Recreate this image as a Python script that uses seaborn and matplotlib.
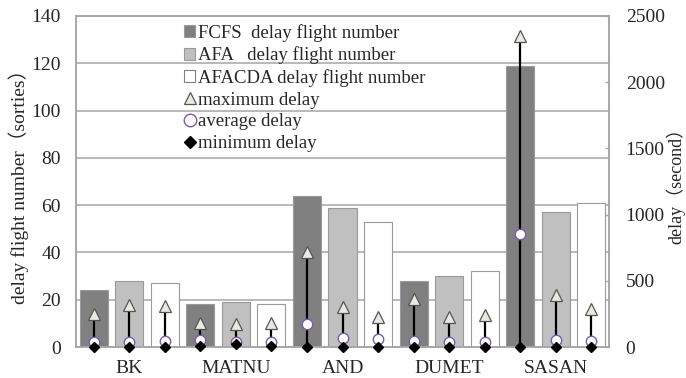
import matplotlib
matplotlib.use("Agg")
import matplotlib.pyplot as plt
from matplotlib.lines import Line2D
from matplotlib.patches import Patch
import pandas as pd
import seaborn as sns

# ---- data -------------------------------------------------------------
categories = ["BK", "MATNU", "AND", "DUMET", "SASAN"]
methods = ["FCFS", "AFA", "AFACDA"]

fcfs_count = [24, 18, 64, 28, 119]
afa_count = [28, 19, 59, 30, 57]
afacda_count = [27, 18, 53, 32, 61]

fcfs_max = [250, 185, 720, 360, 2350]
afa_max = [315, 175, 300, 230, 395]
afacda_max = [310, 185, 230, 240, 290]

fcfs_avg = [40, 50, 170, 45, 850]
afa_avg = [35, 40, 65, 38, 55]
afacda_avg = [45, 40, 58, 38, 45]

fcfs_min = [0, 5, 0, 0, 0]
afa_min = [0, 20, 0, 0, 0]
afacda_min = [0, 5, 0, 0, 0]

left_ticks = [0, 20, 40, 60, 80, 100, 120, 140]
right_ticks = [0, 500, 1000, 1500, 2000, 2500]

counts = {"FCFS": fcfs_count, "AFA": afa_count, "AFACDA": afacda_count}
max_d = {"FCFS": fcfs_max, "AFA": afa_max, "AFACDA": afacda_max}
avg_d = {"FCFS": fcfs_avg, "AFA": afa_avg, "AFACDA": afacda_avg}
min_d = {"FCFS": fcfs_min, "AFA": afa_min, "AFACDA": afacda_min}

df = pd.DataFrame(
    [(c, m, counts[m][i]) for m in methods for i, c in enumerate(categories)],
    columns=["airport", "method", "count"],
)

# ---- style ------------------------------------------------------------
FS = 14
sns.set_style("white")
plt.rcParams["font.family"] = ["Liberation Serif", "Noto Sans CJK SC"]
plt.rcParams["font.size"] = FS

bar_colors = {"FCFS": "#808080", "AFA": "#c0c0c0", "AFACDA": "#ffffff"}
grid_color = "#a6a6a6"
tri_face = "#e9e9df"
tri_edge = "#555555"
circ_edge = "#7a5ca8"

fig = plt.figure(figsize=(6.86, 3.78), dpi=100)
ax = fig.add_axes([0.1108, 0.0820, 0.7770, 0.8757])

sns.barplot(
    data=df, x="airport", y="count", hue="method", order=categories,
    hue_order=methods, palette=bar_colors, width=1.0, gap=0.21,
    edgecolor="#9a9a9a", linewidth=0.8, saturation=1, legend=False, ax=ax,
)

ax.set_xlim(-0.5, len(categories) - 0.5)
ax.set_ylim(0, 140)
ax.set_yticks(left_ticks)
ax.set_axisbelow(True)
ax.yaxis.grid(True, color=grid_color, linewidth=1.1)
ax.tick_params(axis="y", length=0, pad=11, labelsize=FS)
ax.tick_params(axis="x", length=0, pad=9, labelsize=FS)
ax.set_xlabel("")
ax.set_ylabel("delay flight number（sorties）", fontsize=FS)
ax.yaxis.set_label_coords(-0.088, 0.50)
for s in ax.spines.values():
    s.set_color(grid_color)
    s.set_linewidth(1.1)

# ---- delay range markers on the secondary axis ------------------------
ax2 = ax.twinx()
ax2.set_ylim(0, 2500)
ax2.set_yticks(right_ticks)
ax2.tick_params(axis="y", direction="in", length=3, width=1.0,
                color=grid_color, pad=12, labelsize=FS)
ax2.set_ylabel("delay（second）", fontsize=13, labelpad=1)
for s in ax2.spines.values():
    s.set_color(grid_color)
    s.set_linewidth(1.1)

for k, m in enumerate(methods):
    xs = [p.get_x() + p.get_width() / 2 for p in ax.containers[k]]
    ax2.vlines(xs, min_d[m], max_d[m], color="black", linewidth=1.6, zorder=3)
    ax2.plot(xs, max_d[m], linestyle="none", marker="^", markersize=8,
             markerfacecolor=tri_face, markeredgecolor=tri_edge,
             markeredgewidth=0.9, zorder=4, clip_on=False)
    ax2.plot(xs, avg_d[m], linestyle="none", marker="o", markersize=7.5,
             markerfacecolor="white", markeredgecolor=circ_edge,
             markeredgewidth=1.0, zorder=5, clip_on=False)
    ax2.plot(xs, min_d[m], linestyle="none", marker="D", markersize=5.5,
             markerfacecolor="black", markeredgecolor="black",
             zorder=6, clip_on=False)

# ---- legend -----------------------------------------------------------
handles = [
    Patch(facecolor=bar_colors["FCFS"], edgecolor="#9a9a9a", linewidth=0.8),
    Patch(facecolor=bar_colors["AFA"], edgecolor="#9a9a9a", linewidth=0.8),
    Patch(facecolor=bar_colors["AFACDA"], edgecolor="#808080", linewidth=0.8),
    Line2D([], [], linestyle="none", marker="^", markersize=9,
           markerfacecolor=tri_face, markeredgecolor=tri_edge, markeredgewidth=0.9),
    Line2D([], [], linestyle="none", marker="o", markersize=9,
           markerfacecolor="white", markeredgecolor=circ_edge, markeredgewidth=1.0),
    Line2D([], [], linestyle="none", marker="D", markersize=6,
           markerfacecolor="black", markeredgecolor="black"),
]
labels = [
    "FCFS  delay flight number",
    "AFA   delay flight number",
    "AFACDA delay flight number",
    "maximum delay",
    "average delay",
    "minimum delay",
]
ax2.legend(
    handles, labels, loc="upper left", bbox_to_anchor=(184 / 686, 1 - 24 / 378),
    bbox_transform=fig.transFigure, frameon=False, fontsize=13.5,
    handlelength=0.6, handleheight=0.6, handletextpad=0.15,
    labelspacing=0.25, borderpad=0, borderaxespad=0,
)

fig.savefig("out.png", dpi=100)
